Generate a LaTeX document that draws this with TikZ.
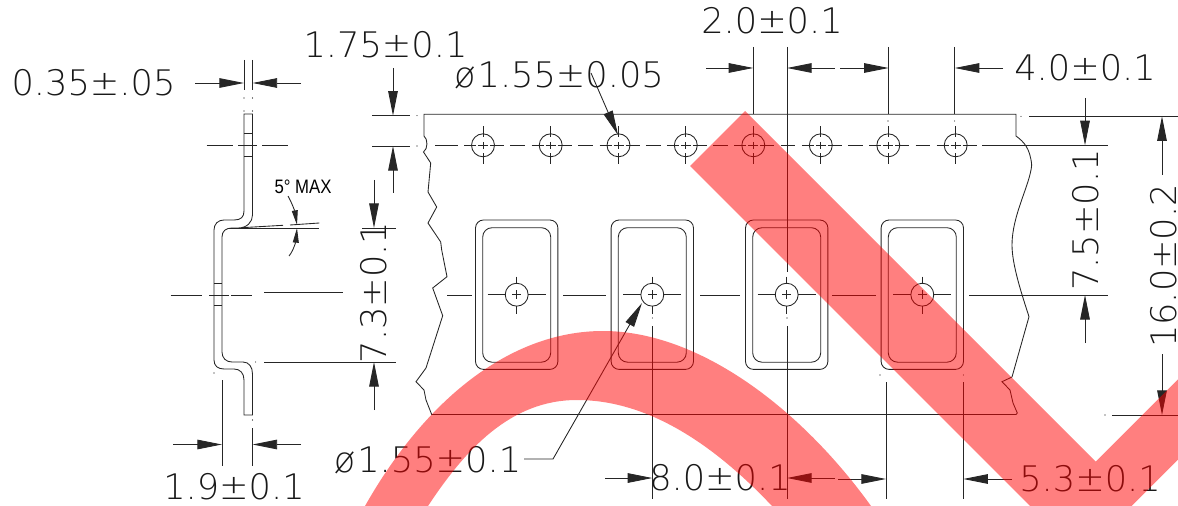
\documentclass[tikz,border=0pt]{standalone}
\usepackage{fontspec}
\usetikzlibrary{arrows.meta}
\newfontfamily\dimfont{DejaVu Sans ExtraLight}
\newfontfamily\notefont{Liberation Sans}
\tikzset{
    cadline/.style={line width=0.65pt,draw=black!85},
    dimline/.style={cadline,-{Triangle[length=18.5pt,width=7.2pt]}},
    minorline/.style={cadline,-{Triangle[length=11pt,width=4.4pt]}},
    dimtext/.style={inner sep=0pt,text=black!90,font=\dimfont\fontsize{26.4}{30}\selectfont},
    notetext/.style={inner sep=0pt,text=black,font=\notefont\fontsize{14.6}{16}\selectfont},
    nored/.style={fill=red,fill opacity=0.5}
}
\begin{document}
\begin{tikzpicture}[x=0.75pt,y=-0.75pt]
    \clip[use as bounding box] (0,0) rectangle (1178,506);
    % side profile
    \draw[cadline] (244,114) -- (244,211) .. controls (244,217) and (241,220) .. (234,220)
        -- (224,220) .. controls (218,220) and (214,224) .. (214,230)
        -- (214,360) .. controls (214,366) and (218,369) .. (224,369)
        -- (234,369) .. controls (240,369) and (244,373) .. (244,380)
        -- (244,415) -- (252.5,415) -- (252.5,374) .. controls (252.5,367) and (249,362) .. (243,362)
        -- (232,362) .. controls (226,362) and (222,358) .. (222,352)
        -- (222,237) .. controls (222,231) and (226,228) .. (232,228)
        -- (238,228) .. controls (247,228) and (252.5,222) .. (252.5,215) -- (252.5,114) -- cycle;
    \draw[cadline] (244,133.5) -- (252.5,133.5) (244,156) -- (252.5,156)
        (214,283.3) -- (222,283.3) (214,305.7) -- (222,305.7);
    \draw[cadline] (206.7,145.3) -- (232.7,145.3) (238,145.3) -- (257,145.3) (262,145.3) -- (288,145.3);
    \draw[cadline] (170.7,295) -- (202,295) (209,295) -- (229,295) (231,295) -- (252,295) (264,292.5) -- (343,292.5);
    % tape outline
    \draw[cadline] (424,136) -- (424,114.3) -- (1016,114.3) -- (1016,136)
        .. controls (1024,142) and (1030,148) .. (1031.7,165)
        .. controls (1030,185) and (1012,215) .. (1012,245)
        .. controls (1012,265) and (1022,295) .. (1029,316.7)
        -- (1012,377) -- (1002,381.7) -- (1010,390) -- (1013,403) -- (1017.3,413) -- (1016,414.5)
        -- (431.7,414.5) -- (426,400) -- (424,390) -- (416,381.7) -- (426,368) -- (442.7,315.7)
        -- (432.7,288) -- (447,276.7) -- (441.7,250) -- (440.7,242) -- (428,223) -- (436.7,207)
        -- (428,192) -- (430.7,163) -- (423.5,152) .. controls (428,149) and (428,139) .. (424,136);
    % sprocket holes
    \foreach \x in {483,550.7,618.5,685.8,753.3,820.8,888.3,955.7} {
        \begin{scope}[shift={(\x,145.3)}]
            \draw[cadline] (0,0) circle [radius=8.6pt];
            \draw[cadline] (-19,0) -- (-7,0) (-5,0) -- (5,0) (7,0) -- (21,0);
            \draw[cadline] (0,-19) -- (0,-8) (0,-3.5) -- (0,3.5) (0,8) -- (0,19);
        \end{scope}
    }
    \foreach \x in {483,550.7,618.5,685.8,753.3,820.8,888.3} {
        \draw[cadline] ([xshift=20.5pt]\x,145.3) -- ([xshift=31.5pt]\x,145.3);
    }
    \draw[cadline] (435,145.3) -- (458,145.3) (982,145.3) -- (1108,145.3);
    % pockets
    \foreach \x in {516.7,652.3,786.7,922.3} {
        \begin{scope}[shift={(\x,294.7)}]
            \draw[cadline,rounded corners=6pt] (-41.2,-74.7) rectangle (41.2,74.7);
            \draw[cadline,rounded corners=7pt] (-34,-67) rectangle (34,67.5);
            \draw[cadline] (0,0) circle [radius=8.6pt];
            \draw[cadline] (-29,0) -- (-11,0) (-4.5,0) -- (4.5,0) (11,0) -- (29,0);
            \draw[cadline] (0,-18) -- (0,-11) (0,-4.5) -- (0,4.5) (0,11) -- (0,19);
        \end{scope}
    }
    \draw[cadline] (447,295) -- (471.7,295) (563,295) -- (606,295) (700,295) -- (740,295)
        (832,295) -- (876,295) (969,295) -- (1108,295);
    % extension lines
    \draw[cadline] (244,60) -- (244,90) (252.5,60) -- (252.5,90);
    \draw[cadline] (372,115.7) -- (410,115.7) (372,146) -- (410,146);
    \draw[cadline] (229,228) -- (319,228) (362,228) -- (396,228) (264,362) -- (396,362);
    \draw[cadline] (241.7,227.7) -- (283,225.3) (290,225) -- (319.3,223);
    \draw[cadline] (222,380) -- (222,466) (252.5,428) -- (252.5,466);
    \draw[cadline] (753.3,47) -- (753.3,114) (787,47) -- (787,272) (888.7,47) -- (888.7,114) (954.7,47) -- (954.7,114);
    \draw[cadline] (652.3,326) -- (652.3,499) (787,326) -- (787,499) (886,382) -- (886,499) (963.3,382) -- (963.3,499);
    \draw[cadline] (1029,116.3) -- (1178,116.3) (1112,415) -- (1178,415);
    \foreach \x/\y in {244/98,252.5/98,244/111,252.5/111,417/115.7,417/146,252.5/420,214/373,255.7/362,
            888/121,954.7/121,1021/116.3,880/375,963.3/375,1105/415,652.3/318,787/318} {
        \fill[black] (\x,\y) circle [radius=0.4pt];
    }
    % dimension arrows
    \draw[dimline] (195,83) -- (244,83);
    \draw[dimline] (301,83) -- (252.5,83);
    \draw[dimline] (393,68) -- (393,115.7);
    \draw[dimline] (393,193) -- (393,146);
    \draw[dimline] (374,180) -- (374,228);
    \draw[dimline] (374,410) -- (374,362);
    \draw[dimline] (173,444.5) -- (222,444.5);
    \draw[dimline] (301,444.5) -- (252.5,444.5);
    \draw[dimline] (706,68) -- (753.3,68);
    \draw[dimline] (835,68) -- (787,68);
    \draw[dimline] (840,68) -- (888.7,68);
    \draw[dimline] (1003,68) -- (954.7,68);
    \draw[dimline] (605,478) -- (652.3,478);
    \draw[dimline] (835,478) -- (787,478);
    \draw[dimline] (838,479) -- (886,479);
    \draw[dimline] (1012,479) -- (963.3,479);
    \draw[dimline] (1085,98) -- (1085,145.3);
    \draw[dimline] (1085,343) -- (1085,295);
    \draw[dimline] (1162,175) -- (1162,116.3);
    \draw[dimline] (1162,354) -- (1162,415);
    \draw[dimline] (591,73) -- (618,135);
    \draw[dimline] (524,459) -- (553,459) -- (642,303);
    \draw[minorline] (288,196) .. controls (292,203) and (295,212) .. (297,225);
    \draw[minorline] (289,256) .. controls (294,250) and (296,240) .. (297,228);
    % labels
    \node[dimtext] (lead) at (93.5,83) {0.35±.05};
    \node[dimtext] (edge) at (385.5,45) {1.75±0.1};
    \node[dimtext] (sprocket) at (559,75) {ø\kern1.5pt 1.55±0.05};
    \node[dimtext] (holetwo) at (772,20.5) {2.0±0.1};
    \node[dimtext] (pitch) at (1085,68) {4.0±0.1};
    \node[dimtext] (pocketdia) at (427.5,460) {ø\kern1.5pt 1.55±0.1};
    \node[dimtext] (foot) at (234,486.5) {1.9±0.1};
    \node[dimtext] (pocket) at (720,478) {8.0±0.1};
    \node[dimtext] (pocketw) at (1090,479) {5.3±0.1};
    \node[dimtext,rotate=90] (body) at (374,292.5) {7.3±0.1};
    \node[dimtext,rotate=90] (centre) at (1085.5,220) {7.5±0.1};
    \node[dimtext,rotate=90] (tape) at (1163.5,266) {16.0±0.2};
    \node[notetext] (angle) at (303,187) {\scalebox{0.86}[1]{5° MAX}};
    % overlay
    \fill[nored] (745,111) -- (1095.7,461.7) -- (1200,357.4) -- (1200,437.7) -- (1080.9,556.8) -- (690,166) -- cycle;
    \fill[nored] (365,506) .. controls (425,400) and (510,331) .. (603,331)
        .. controls (700,331) and (802,410) .. (871,506)
        -- (772,506) .. controls (705,435) and (640,400) .. (577,400)
        .. controls (510,400) and (465,450) .. (428,506) -- cycle;
\end{tikzpicture}
\end{document}
